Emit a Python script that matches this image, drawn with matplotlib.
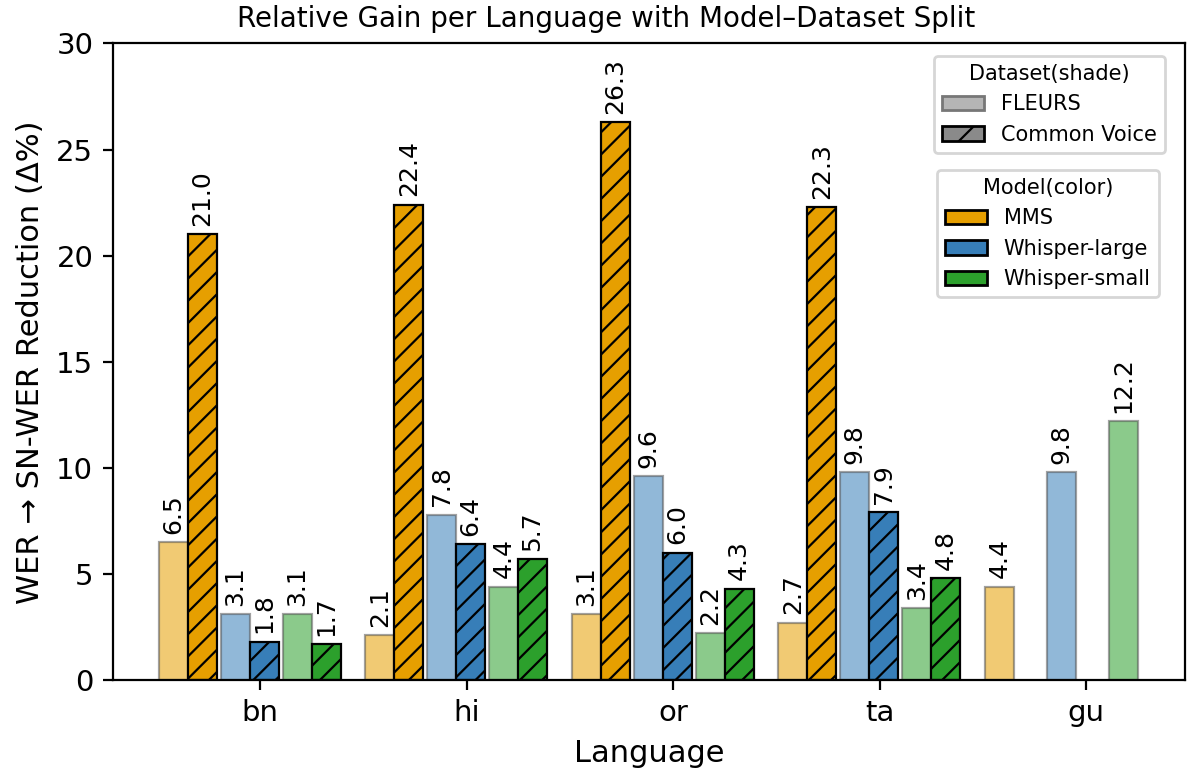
import numpy as np
import matplotlib
matplotlib.use("Agg")
import matplotlib.pyplot as plt
from matplotlib.patches import Patch

# relative gain (%) per language, split by model and dataset
languages = ["bn", "hi", "or", "ta", "gu"]

mms_fleurs = [6.5, 2.1, 3.1, 2.7, 4.4]
mms_cv = [21.0, 22.4, 26.3, 22.3, np.nan]
wl_fleurs = [3.1, 7.8, 9.6, 9.8, 9.8]
wl_cv = [1.8, 6.4, 6.0, 7.9, np.nan]
ws_fleurs = [3.1, 4.4, 2.2, 3.4, 12.2]
ws_cv = [1.7, 5.7, 4.3, 4.8, np.nan]

models = ["MMS", "Whisper-large", "Whisper-small"]
model_colors = ["#E69F00", "#377EB8", "#2CA02C"]
fleurs_vals = [mms_fleurs, wl_fleurs, ws_fleurs]
cv_vals = [mms_cv, wl_cv, ws_cv]

plt.rcParams["hatch.linewidth"] = 0.8

fig = plt.figure(figsize=(5.94, 3.855), dpi=200)
ax = fig.add_axes([0.0949, 0.118, 0.9026, 0.8256])

x = np.arange(len(languages))
width = 0.14
model_offsets = [-0.35, -0.05, 0.25]


def value_labels(vals):
    return ["" if np.isnan(v) else f"{v:.1f}" for v in vals]


for i, model in enumerate(models):
    color = model_colors[i]
    fl = np.array(fleurs_vals[i], dtype=float)
    cv = np.array(cv_vals[i], dtype=float)

    bars_fl = ax.bar(x + model_offsets[i] - width / 2, fl, width,
                     color=color, alpha=0.55, edgecolor="#555555",
                     linewidth=0.8)
    bars_cv = ax.bar(x + model_offsets[i] + width / 2, cv, width,
                     color=color, edgecolor="black", linewidth=0.8,
                     hatch="///")

    ax.bar_label(bars_fl, labels=value_labels(fl), rotation=90,
                 padding=3, fontsize=9)
    ax.bar_label(bars_cv, labels=value_labels(cv), rotation=90,
                 padding=3, fontsize=9)

ax.set_xticks(x)
ax.set_xticklabels(languages, fontsize=10.5)
ax.set_xlim(-0.713, 4.479)
ax.set_ylim(0, 30)
ax.tick_params(axis="y", labelsize=10.5)

ax.set_xlabel("Language", fontsize=11)
ax.set_ylabel("WER \u2192 SN-WER Reduction (\u0394%)", fontsize=11)
ax.set_title("Relative Gain per Language with Model\u2013Dataset Split",
             fontsize=10, x=0.46)

# legend for dataset (shade / hatch)
dataset_handles = [
    Patch(facecolor="#b5b5b5", edgecolor="#777777", label="FLEURS"),
    Patch(facecolor="#8a8a8a", edgecolor="black", hatch="//",
          label="Common Voice"),
]
leg1 = ax.legend(handles=dataset_handles, title="Dataset(shade)",
                 loc="upper right", bbox_to_anchor=(0.9813, 0.9811),
                 borderaxespad=0, fontsize=7.5, title_fontsize=7.5)
ax.add_artist(leg1)

# legend for model (color)
model_handles = [Patch(facecolor=c, edgecolor="black", label=m)
                 for m, c in zip(models, model_colors)]
ax.legend(handles=model_handles, title="Model(color)",
          loc="upper right", bbox_to_anchor=(0.9758, 0.8019),
          borderaxespad=0, fontsize=7.5, title_fontsize=7.5)

fig.savefig("out.png", dpi=200)
